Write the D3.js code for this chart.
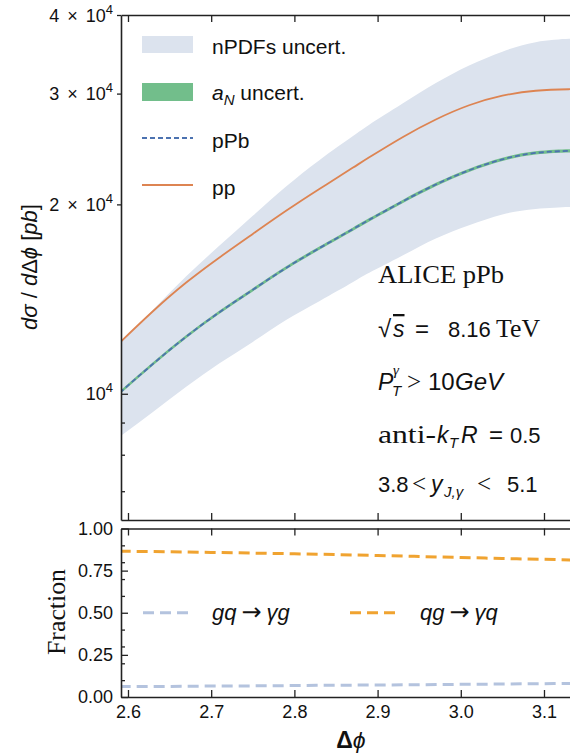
<!DOCTYPE html>
<html>
<head>
<meta charset="utf-8">
<script src="https://cdn.jsdelivr.net/npm/d3@7"></script>
<style>
  html, body { margin: 0; padding: 0; background: #fff; overflow: hidden; }
  svg { display: block; }
</style>
</head>
<body>
<svg id="chart" width="570" height="755"></svg>
<script>
// ---- cross-section panel (pb per radian) ----
const dphi      = [2.59, 2.63, 2.67, 2.71, 2.75, 2.79, 2.83, 2.87, 2.89, 2.93, 2.97, 3.01, 3.05, 3.09, 3.13, 3.1416];
const ppXsec    = [12056, 13527, 15023, 16471, 17950, 19533, 21159, 22860, 23757, 25574, 27288, 28746, 29766, 30316, 30483, 30483];
const pPbXsec   = [10037, 11154, 12324, 13478, 14631, 15849, 17042, 18257, 18906, 20211, 21510, 22660, 23584, 24143, 24321, 24321];
const nPDFLow   = [8541, 9355, 10260, 11179, 12091, 13098, 14033, 15034, 15567, 16580, 17647, 18523, 19277, 19663, 19807, 19807];
const nPDFHigh  = [12012, 13602, 15369, 17199, 19178, 21346, 23515, 25659, 26774, 28926, 31174, 33240, 34980, 36216, 36656, 36656];
const aNLow     = [9977, 11087, 12250, 13397, 14543, 15754, 16940, 18147, 18793, 20090, 21381, 22524, 23442, 23998, 24175, 24175];
const aNHigh    = [10097, 11221, 12398, 13559, 14719, 15944, 17144, 18367, 19019, 20332, 21639, 22796, 23726, 24288, 24467, 24467];

// ---- channel fractions ----
const fracDphi  = [2.59, 2.65, 2.70, 2.75, 2.80, 2.85, 2.90, 2.95, 3.00, 3.05, 3.10, 3.1416];
const fracGq    = [0.062, 0.063, 0.065, 0.066, 0.068, 0.070, 0.071, 0.073, 0.075, 0.077, 0.079, 0.081];
const fracQg    = [0.865, 0.862, 0.858, 0.854, 0.850, 0.845, 0.840, 0.834, 0.828, 0.822, 0.817, 0.812];

// ---- ticks ----
const xTicks        = [2.6, 2.7, 2.8, 2.9, 3.0, 3.1];
const yTopMajor     = [10000];
const yTopLabeled   = [20000, 30000, 40000];
const yTopLabelMant = ["2", "3", "4"];
const yTopMinor     = [7000, 8000, 9000];
const yBotMajor     = [0, 0.25, 0.5, 0.75, 1.0];
const yBotMinor     = [0.1, 0.2, 0.3, 0.4, 0.6, 0.7, 0.8, 0.9];

const C = {
  band: "#dce3ee", green: "#72be8b", pPb: "#4c72b0", pp: "#dd8452",
  gq: "#b4c3de", qg: "#f0a330", axis: "#222"
};
const SANS = "'Liberation Sans', Arial, sans-serif";
const SERIF = "'Liberation Serif', 'Times New Roman', serif";

const svg = d3.select("#chart");

const x = d3.scaleLinear().domain([2.5916, 3.1416]).range([121, 578.6]);
const yTop = d3.scaleLog().domain([6300, 40000]).range([520, 15]);
const yBot = d3.scaleLinear().domain([0, 1]).range([697, 528.5]);

const topBox = {x0: 121, x1: 578.6, y0: 15, y1: 520};
const botBox = {x0: 121, x1: 578.6, y0: 528.5, y1: 697};

const defs = svg.append("defs");
defs.append("clipPath").attr("id", "clipTop").append("rect")
  .attr("x", topBox.x0).attr("y", topBox.y0)
  .attr("width", topBox.x1 - topBox.x0).attr("height", topBox.y1 - topBox.y0);
defs.append("clipPath").attr("id", "clipBot").append("rect")
  .attr("x", botBox.x0).attr("y", botBox.y0)
  .attr("width", botBox.x1 - botBox.x0).attr("height", botBox.y1 - botBox.y0);

// ================= top panel =================
const gTop = svg.append("g").attr("clip-path", "url(#clipTop)");
const rows = dphi.map((d, i) => ({d, pp: ppXsec[i], pPb: pPbXsec[i], lo: nPDFLow[i], hi: nPDFHigh[i], aLo: aNLow[i], aHi: aNHigh[i]}));

const curve = d3.curveNatural;
gTop.append("path").datum(rows)
  .attr("fill", C.band)
  .attr("d", d3.area().curve(curve).x(r => x(r.d)).y0(r => yTop(r.lo)).y1(r => yTop(r.hi)));
gTop.append("path").datum(rows)
  .attr("fill", C.green)
  .attr("d", d3.area().curve(curve).x(r => x(r.d)).y0(r => yTop(r.aLo)).y1(r => yTop(r.aHi)));
gTop.append("path").datum(rows)
  .attr("fill", "none").attr("stroke", C.pPb).attr("stroke-width", 1.8)
  .attr("stroke-dasharray", "5,3")
  .attr("d", d3.line().curve(curve).x(r => x(r.d)).y(r => yTop(r.pPb)));
gTop.append("path").datum(rows)
  .attr("fill", "none").attr("stroke", C.pp).attr("stroke-width", 1.8)
  .attr("d", d3.line().curve(curve).x(r => x(r.d)).y(r => yTop(r.pp)));

// ================= bottom panel =================
const gBot = svg.append("g").attr("clip-path", "url(#clipBot)");
const fRows = fracDphi.map((d, i) => ({d, gq: fracGq[i], qg: fracQg[i]}));
gBot.append("path").datum(fRows)
  .attr("fill", "none").attr("stroke", C.gq).attr("stroke-width", 3)
  .attr("stroke-dasharray", "11,6")
  .attr("d", d3.line().curve(d3.curveMonotoneX).x(r => x(r.d)).y(r => yBot(r.gq)));
gBot.append("path").datum(fRows)
  .attr("fill", "none").attr("stroke", C.qg).attr("stroke-width", 3)
  .attr("stroke-dasharray", "11,6")
  .attr("d", d3.line().curve(d3.curveMonotoneX).x(r => x(r.d)).y(r => yBot(r.qg)));

// ================= axes =================
function styleAxis(g, width) {
  g.selectAll("path.domain").attr("stroke", C.axis).attr("stroke-width", width || 1.6);
  g.selectAll(".tick line").attr("stroke", C.axis).attr("stroke-width", 1.3);
}
function noDomain(g) { g.select("path.domain").remove(); }

[topBox, botBox].forEach((box, idx) => {
  const gb = svg.append("g").attr("transform", `translate(0,${box.y1})`)
    .call(d3.axisBottom(x).tickValues(xTicks).tickSize(-7).tickSizeOuter(0)
      .tickPadding(8).tickFormat(idx === 1 ? d3.format(".1f") : () => ""));
  styleAxis(gb);
  const gt = svg.append("g").attr("transform", `translate(0,${box.y0})`)
    .call(d3.axisTop(x).tickValues(xTicks).tickSize(-7).tickSizeOuter(0).tickFormat(() => ""));
  styleAxis(gt);
  if (idx === 1) {
    gb.selectAll("text").attr("font-family", SANS).attr("font-size", 18).attr("fill", "#111");
  }
});

// log axis of the top panel
const gyt = svg.append("g").attr("transform", `translate(${topBox.x0},0)`)
  .call(d3.axisLeft(yTop).tickValues(yTopMajor).tickSize(-7).tickSizeOuter(0).tickFormat(() => ""));
styleAxis(gyt);
const gytm = svg.append("g").attr("transform", `translate(${topBox.x0},0)`)
  .call(d3.axisLeft(yTop).tickValues(yTopMinor).tickSize(-4).tickFormat(() => ""));
noDomain(gytm); styleAxis(gytm);
const gytl = svg.append("g").attr("transform", `translate(${topBox.x0},0)`)
  .call(d3.axisLeft(yTop).tickValues(yTopLabeled).tickSize(4).tickFormat(() => ""));
noDomain(gytl); styleAxis(gytl);

const yLab = svg.append("g").attr("font-family", SANS).attr("fill", "#111");
yTopLabeled.forEach((v, i) => {
  const t = yLab.append("text").attr("x", 113).attr("y", yTop(v) + 6.5)
    .attr("text-anchor", "end").attr("font-size", 18).attr("word-spacing", 3);
  t.append("tspan").text(yTopLabelMant[i] + " \u00D7 10");
  t.append("tspan").attr("dy", -8).attr("font-size", 13).text("4");
});
yTopMajor.forEach(v => {
  const t = yLab.append("text").attr("x", 113).attr("y", yTop(v) + 6.5)
    .attr("text-anchor", "end").attr("font-size", 18);
  t.append("tspan").text("10");
  t.append("tspan").attr("dy", -8).attr("font-size", 13).text("4");
});

// linear axis of the bottom panel
const gyb = svg.append("g").attr("transform", `translate(${botBox.x0},0)`)
  .call(d3.axisLeft(yBot).tickValues(yBotMajor).tickSize(-7).tickSizeOuter(0)
    .tickPadding(8).tickFormat(d3.format(".2f")));
styleAxis(gyb);
gyb.selectAll("text").attr("font-family", SANS).attr("font-size", 18).attr("fill", "#111");
const gybm = svg.append("g").attr("transform", `translate(${botBox.x0},0)`)
  .call(d3.axisLeft(yBot).tickValues(yBotMinor).tickSize(-4).tickFormat(() => ""));
noDomain(gybm); styleAxis(gybm);

// ================= axis titles =================
const yt = svg.append("text")
  .attr("transform", "translate(37,267) rotate(-90)")
  .attr("text-anchor", "middle").attr("font-family", SANS).attr("font-size", 22)
  .attr("font-style", "italic").attr("fill", "#111");
yt.append("tspan").text("d\u03C3");
yt.append("tspan").attr("font-style", "normal").text(" / ");
yt.append("tspan").text("d");
yt.append("tspan").attr("font-style", "normal").text("\u0394");
yt.append("tspan").text("\u03D5 ");
yt.append("tspan").attr("font-style", "normal").text("[");
yt.append("tspan").text("pb");
yt.append("tspan").attr("font-style", "normal").text("]");

svg.append("text")
  .attr("transform", "translate(65,655) rotate(-90)")
  .attr("font-family", SERIF).attr("font-size", 25)
  .attr("textLength", 86).attr("lengthAdjust", "spacingAndGlyphs")
  .attr("fill", "#111").text("Fraction");

const xt = svg.append("text").attr("x", 351).attr("y", 748)
  .attr("text-anchor", "middle").attr("font-family", SANS).attr("font-size", 23).attr("fill", "#111");
xt.append("tspan").attr("font-weight", "bold").text("\u0394");
xt.append("tspan").attr("font-style", "italic").text("\u03D5");

// ================= top legend =================
const leg = svg.append("g").attr("font-family", SANS).attr("font-size", 21).attr("fill", "#111");
leg.append("rect").attr("x", 142).attr("y", 36).attr("width", 51).attr("height", 17).attr("fill", C.band);
leg.append("text").attr("x", 212).attr("y", 54).text("nPDFs uncert.");
leg.append("rect").attr("x", 142).attr("y", 83).attr("width", 51).attr("height", 18).attr("fill", C.green);
const aT = leg.append("text").attr("x", 212).attr("y", 100);
aT.append("tspan").attr("font-style", "italic").text("a");
aT.append("tspan").attr("font-style", "italic").attr("font-size", 15).attr("dy", 5).text("N");
aT.append("tspan").attr("dy", -5).text(" uncert.");
leg.append("line").attr("x1", 142).attr("x2", 193).attr("y1", 138).attr("y2", 138)
  .attr("stroke", C.pPb).attr("stroke-width", 1.8).attr("stroke-dasharray", "5,3");
leg.append("text").attr("x", 212).attr("y", 148).text("pPb");
leg.append("line").attr("x1", 142).attr("x2", 193).attr("y1", 185).attr("y2", 185)
  .attr("stroke", C.pp).attr("stroke-width", 1.8);
leg.append("text").attr("x", 212).attr("y", 195).text("pp");

// ================= bottom legend =================
const leg2 = svg.append("g").attr("fill", "#111");
function channelLabel(x0, a, b) {
  const t = leg2.append("text").attr("x", x0).attr("y", 620).attr("font-family", SANS).attr("font-size", 22);
  t.append("tspan").attr("font-style", "italic").text(a);
  t.append("tspan").attr("font-family", "'DejaVu Sans', sans-serif").attr("font-size", 24).attr("dx", 5).text("\u2192");
  t.append("tspan").attr("font-style", "italic").attr("dx", 5).text(b);
}
leg2.append("line").attr("x1", 143).attr("x2", 190).attr("y1", yBot(0.5)).attr("y2", yBot(0.5))
  .attr("stroke", C.gq).attr("stroke-width", 3).attr("stroke-dasharray", "11,6");
channelLabel(212, "gq", "\u03B3g");
leg2.append("line").attr("x1", 350).attr("x2", 398).attr("y1", yBot(0.5)).attr("y2", yBot(0.5))
  .attr("stroke", C.qg).attr("stroke-width", 3).attr("stroke-dasharray", "11,6");
channelLabel(420, "qg", "\u03B3q");

// ================= kinematics annotation =================
const ann = svg.append("g").attr("fill", "#111");
function piece(xp, yp, txt, opts) {
  const o = Object.assign({fam: SANS, size: 23, italic: false}, opts || {});
  const t = ann.append("text").attr("x", xp).attr("y", yp)
    .attr("font-family", o.fam).attr("font-size", o.size)
    .attr("font-style", o.italic ? "italic" : "normal").text(txt);
  if (o.len) t.attr("textLength", o.len).attr("lengthAdjust", "spacingAndGlyphs");
  return t;
}
piece(378, 283, "ALICE pPb", {fam: SERIF, size: 25, len: 126});

piece(378, 337, "\u221A", {size: 24});
piece(393, 337, "s", {italic: true}).attr("text-decoration", "overline");
piece(415, 337, "=", {size: 24});
piece(448, 337, "8.16", {size: 22});
piece(496, 337, "TeV", {fam: SERIF, size: 25, len: 44});

piece(378, 390, "P", {italic: true});
piece(393, 375, "\u03B3", {fam: SERIF, size: 15, italic: true});
piece(392, 396, "T", {size: 15, italic: true});
piece(407, 390, ">", {fam: SERIF, size: 25});
piece(428, 390, "10", {size: 24});
piece(455, 390, "GeV", {italic: true, size: 24});

piece(378, 443, "anti-", {fam: SERIF, size: 25, len: 58});
piece(437, 443, "k", {italic: true});
piece(449, 448, "T", {size: 15, italic: true});
piece(461, 443, "R", {italic: true});
piece(489, 443, "=", {size: 24});
piece(510, 443, "0.5", {size: 22});

piece(378, 492, "3.8", {size: 22});
piece(412, 492, "<", {fam: SERIF, size: 25});
piece(431, 492, "y", {italic: true});
piece(444, 497, "J,\u03B3", {size: 15, italic: true});
piece(477, 492, "<", {fam: SERIF, size: 25});
piece(507, 492, "5.1", {size: 22});
</script>
</body>
</html>
